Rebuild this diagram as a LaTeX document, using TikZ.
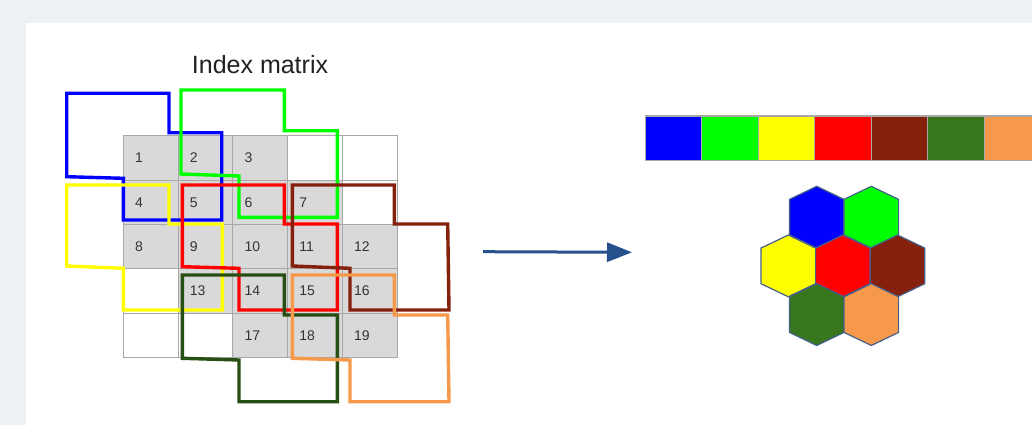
\documentclass[tikz,border=0pt]{standalone}
\usepackage{fontspec}
\setmainfont{Liberation Sans}
\usetikzlibrary{arrows.meta}
\definecolor{bgpanel}{HTML}{ECF1F5}
\definecolor{cellgray}{HTML}{D9D9D9}
\definecolor{gridline}{HTML}{A8A8A8}
\definecolor{numtext}{HTML}{333333}
\definecolor{cblue}{HTML}{0000FF}
\definecolor{cgreen}{HTML}{00FF00}
\definecolor{cyellow}{HTML}{FFFF00}
\definecolor{cred}{HTML}{FF0000}
\definecolor{cbrown}{HTML}{85200C}
\definecolor{cdkgreen}{HTML}{38761D}
\definecolor{cdkgreenline}{HTML}{274E13}
\definecolor{corange}{HTML}{F6994A}
\definecolor{hexedge}{HTML}{44618A}
\definecolor{arrowblue}{HTML}{26508C}
\tikzset{
  cellbox/.style={draw=gridline, line width=0.9pt, minimum width=54.8pt, minimum height=44.4pt, inner sep=0pt, outer sep=0pt},
  numlab/.style={font=\fontsize{14}{16}\selectfont, text=numtext, inner sep=0pt, anchor=west},
  region/.style={line width=3.4pt, line join=miter},
  barcell/.style={draw=gridline, line width=1pt, minimum width=56.5pt, minimum height=44pt, inner sep=0pt, outer sep=0pt},
  hexcell/.style={draw=hexedge, line width=1.2pt, line join=miter},
  arr/.style={draw=arrowblue, line width=3pt, -{Triangle[length=25pt,width=19pt]}},
}
\begin{document}
\begin{tikzpicture}[x=1pt,y=-1pt]
\useasboundingbox (0,0) rectangle (1032,425);
\fill[bgpanel] (0,0) rectangle (1032,425);
\fill[white] (26,22.7) rectangle (1032,425);

% title
\node[font=\fontsize{25}{30}\selectfont, text=black!87, anchor=base, inner sep=0pt] (title) at (260,73.5) {Index matrix};

% grid cells
\foreach \r/\c/\f in {1/1/cellgray,1/2/cellgray,1/3/cellgray,1/4/white,1/5/white,
                      2/1/cellgray,2/2/cellgray,2/3/cellgray,2/4/cellgray,2/5/white,
                      3/1/cellgray,3/2/cellgray,3/3/cellgray,3/4/cellgray,3/5/cellgray,
                      4/1/white,4/2/cellgray,4/3/cellgray,4/4/cellgray,4/5/cellgray,
                      5/1/white,5/2/white,5/3/cellgray,5/4/cellgray,5/5/cellgray}{
  \node[cellbox, fill=\f] (cell-\r-\c) at ({123.3+54.8*(\c-0.5)},{135.7+44.4*(\r-0.5)}) {};
}
% numbers
\foreach \r/\c/\n in {1/1/1,1/2/2,1/3/3,2/1/4,2/2/5,2/3/6,2/4/7,
                      3/1/8,3/2/9,3/3/10,3/4/11,3/5/12,
                      4/2/13,4/3/14,4/4/15,4/5/16,
                      5/3/17,5/4/18,5/5/19}{
  \node[numlab] (num-\n) at ([xshift=11.5pt]cell-\r-\c.west) {\n};
}

% neighbourhood outlines
\draw[region, cblue] (66.7,93.3) -- (169,93.3) -- (169,132.7) -- (221.7,132.7) -- (221.7,220) -- (123.3,220) -- (123.3,178.3) -- (66.7,176.7) -- cycle;
\draw[region, cgreen] (181,90) -- (284.3,90) -- (284.3,130.7) -- (337.3,130.7) -- (337.3,217.3) -- (239,217.3) -- (239,176) -- (181,174) -- cycle;
\draw[region, cyellow] (66.7,185) -- (169,185) -- (169,224) -- (222.3,224) -- (222.3,310) -- (123.3,310) -- (123.3,268.3) -- (66.7,266) -- cycle;
\draw[region, cred] (182.3,185) -- (284.3,185) -- (284.3,224) -- (337.3,224) -- (337.3,310) -- (239,310) -- (239,268.3) -- (182.3,266.7) -- cycle;
\draw[region, cbrown] (292.3,185) -- (394.3,185) -- (394.3,224) -- (447.7,224) -- (449,310) -- (350,310) -- (350,268.3) -- (292.3,266) -- cycle;
\draw[region, cdkgreenline] (182.3,275) -- (284.3,275) -- (284.3,315) -- (337.3,315) -- (337.3,401.7) -- (239,401.7) -- (239,360) -- (182.3,358.3) -- cycle;
\draw[region, corange] (292.3,275) -- (394.3,275) -- (394.3,315) -- (447.7,315) -- (449,401.7) -- (350,401.7) -- (350,360) -- (292.3,358.3) -- cycle;

% arrow
\coordinate (arrstart) at (483,251.7);
\coordinate (arrend) at (632,252.3);
\draw[arr] (arrstart) -- (arrend);

% colour bar
\foreach \i/\f in {1/cblue,2/cgreen,3/cyellow,4/cred,5/cbrown,6/cdkgreen,7/corange}{
  \node[barcell, fill=\f] (bar-\i) at ({645+56.55*(\i-0.5)},138) {};
}

% hexagons
\foreach \x/\y/\f in {816.7/217.2/cblue, 871.3/217.2/cgreen,
                      788.3/265.9/cyellow, 842.9/265.9/cred, 897.5/265.9/cbrown,
                      816.7/314.6/cdkgreen, 871.3/314.6/corange}{
  \filldraw[hexcell, fill=\f] (\x,\y) +(0,-30.9) -- +(27.3,-17.8) -- +(27.3,17.8) -- +(0,30.9) -- +(-27.3,17.8) -- +(-27.3,-17.8) -- cycle;
}
\end{tikzpicture}
\end{document}
